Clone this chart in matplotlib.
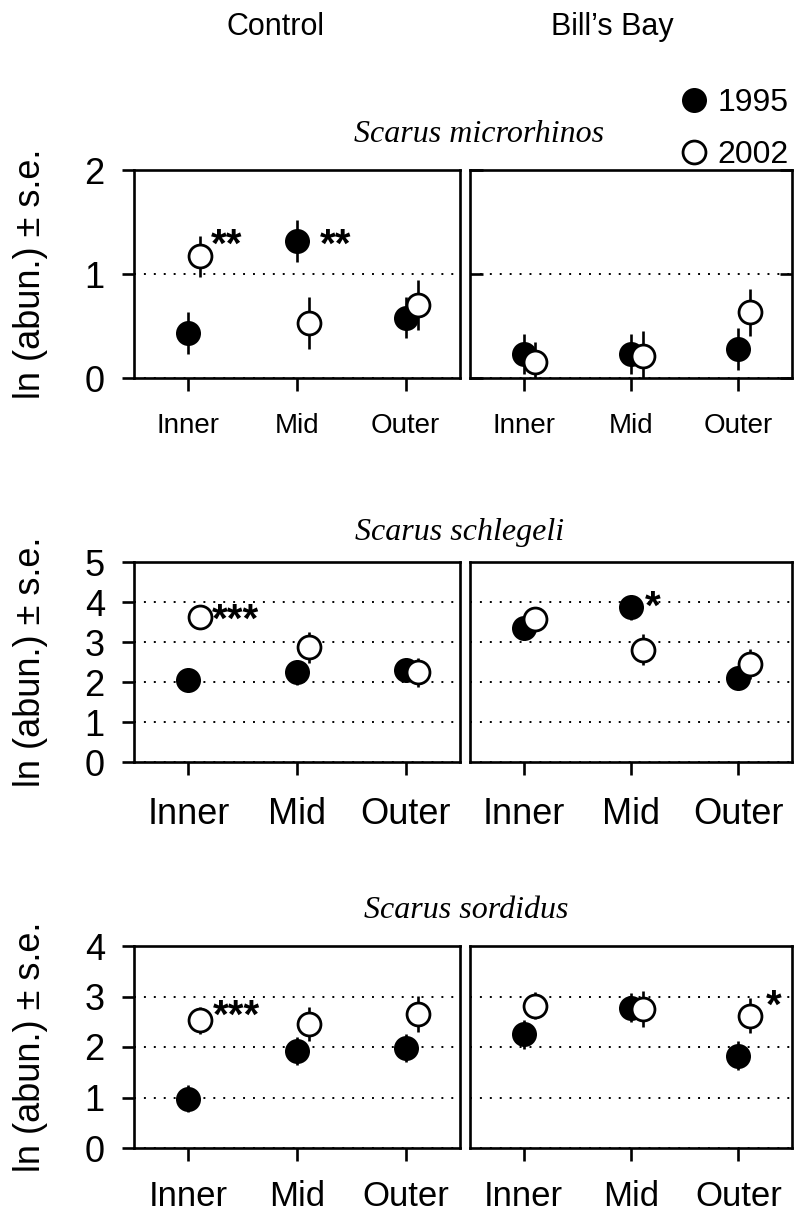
import matplotlib
matplotlib.use("Agg")
import matplotlib.pyplot as plt
import numpy as np

# ---- data -------------------------------------------------------------
sites = ["Control", "Bill\u2019s Bay"]
zones = ["Inner", "Mid", "Outer"]
species = ["Scarus microrhinos", "Scarus schlegeli", "Scarus sordidus"]
years = ["1995", "2002"]

# ln(abundance) means and standard errors, per zone (Inner, Mid, Outer)
micro_ctrl_1995 = [0.43, 1.32, 0.58]
micro_ctrl_1995_se = [0.20, 0.20, 0.20]
micro_ctrl_2002 = [1.17, 0.53, 0.70]
micro_ctrl_2002_se = [0.20, 0.25, 0.24]
micro_bill_1995 = [0.23, 0.23, 0.28]
micro_bill_1995_se = [0.19, 0.19, 0.20]
micro_bill_2002 = [0.15, 0.21, 0.63]
micro_bill_2002_se = [0.20, 0.24, 0.23]

schl_ctrl_1995 = [2.04, 2.24, 2.31]
schl_ctrl_1995_se = [0.30, 0.32, 0.30]
schl_ctrl_2002 = [3.62, 2.87, 2.24]
schl_ctrl_2002_se = [0.29, 0.39, 0.37]
schl_bill_1995 = [3.35, 3.87, 2.10]
schl_bill_1995_se = [0.30, 0.31, 0.29]
schl_bill_2002 = [3.58, 2.81, 2.45]
schl_bill_2002_se = [0.30, 0.39, 0.37]

sord_ctrl_1995 = [0.98, 1.92, 1.98]
sord_ctrl_1995_se = [0.27, 0.28, 0.28]
sord_ctrl_2002 = [2.53, 2.45, 2.65]
sord_ctrl_2002_se = [0.27, 0.34, 0.36]
sord_bill_1995 = [2.25, 2.78, 1.83]
sord_bill_1995_se = [0.29, 0.28, 0.29]
sord_bill_2002 = [2.82, 2.75, 2.62]
sord_bill_2002_se = [0.26, 0.35, 0.35]

y_max = [2, 5, 4]

# significance markers: (species row, site column, x, y, label)
signif = [
    (0, 0, 1.21, 1.35, "**"),
    (0, 0, 2.21, 1.35, "**"),
    (1, 0, 1.22, 3.73, "***"),
    (1, 1, 2.13, 4.07, "*"),
    (2, 0, 1.23, 2.76, "***"),
    (2, 1, 3.26, 2.96, "*"),
]

panels = {
    (0, 0): (micro_ctrl_1995, micro_ctrl_1995_se, micro_ctrl_2002, micro_ctrl_2002_se),
    (0, 1): (micro_bill_1995, micro_bill_1995_se, micro_bill_2002, micro_bill_2002_se),
    (1, 0): (schl_ctrl_1995, schl_ctrl_1995_se, schl_ctrl_2002, schl_ctrl_2002_se),
    (1, 1): (schl_bill_1995, schl_bill_1995_se, schl_bill_2002, schl_bill_2002_se),
    (2, 0): (sord_ctrl_1995, sord_ctrl_1995_se, sord_ctrl_2002, sord_ctrl_2002_se),
    (2, 1): (sord_bill_1995, sord_bill_1995_se, sord_bill_2002, sord_bill_2002_se),
}

# ---- layout -----------------------------------------------------------
SANS = ["Liberation Sans", "DejaVu Sans"]
SERIF = ["Liberation Serif", "DejaVu Serif"]
plt.rcParams["font.family"] = SANS

W, H = 794, 1216
fig = plt.figure(figsize=(W / 100, H / 100), dpi=100)

row_px = [(170, 378), (562, 762), (946, 1148)]
col_px = [(134, 460), (470, 792)]
title_pos = [(479, 142), (460, 540), (466, 918)]
xtick_size = [20, 26, 25]
xtick_pad = [16, 16, 14]

lw = 1.9
offset = 0.11
xpos = np.arange(1, len(zones) + 1)


def px_rect(x0, x1, y0, y1):
    return [x0 / W, 1 - y1 / H, (x1 - x0) / W, (y1 - y0) / H]


handles = None
axes = {}
for r in range(3):
    for c in range(2):
        x0, x1 = col_px[c]
        y0, y1 = row_px[r]
        ax = fig.add_axes(px_rect(x0, x1, y0, y1))
        axes[(r, c)] = ax
        m95, s95, m02, s02 = panels[(r, c)]

        eb95 = ax.errorbar(xpos, m95, yerr=s95, fmt="o", ms=16.5,
                           mfc="black", mec="black", mew=1.5,
                           ecolor="black", elinewidth=lw, capsize=0,
                           zorder=3)
        eb02 = ax.errorbar(xpos + offset, m02, yerr=s02, fmt="o", ms=16.5,
                           mfc="white", mec="black", mew=2.0,
                           ecolor="black", elinewidth=lw, capsize=0,
                           zorder=4)
        if handles is None:
            handles = [eb95[0], eb02[0]]

        ax.set_xlim(0.5, 3.5)
        ax.set_ylim(0, y_max[r])
        ax.set_yticks(range(0, y_max[r] + 1))
        ax.set_xticks(xpos)
        ax.set_xticklabels(zones)
        for sp in ax.spines.values():
            sp.set_linewidth(lw)
            sp.set_zorder(5)

        ax.yaxis.grid(True, linestyle=(0, (1, 4.1)), color="black",
                      linewidth=1.4)
        ax.set_axisbelow(True)

        ax.tick_params(axis="x", direction="out", length=9, width=lw,
                       labelsize=xtick_size[r], pad=xtick_pad[r])
        if c == 0:
            ax.tick_params(axis="y", direction="out", length=9, width=lw,
                           labelsize=26, pad=12)
            ax.set_ylabel("ln (abun.) \u00b1 s.e.", fontsize=26)
            ax.yaxis.set_label_coords((48 - x0) / (x1 - x0), 0.5)
        elif r == 0:
            ax.tick_params(axis="y", direction="in", length=9, width=lw,
                           left=True, right=True, labelleft=False)
        else:
            ax.tick_params(axis="y", length=0, labelleft=False)

# species names
for r, name in enumerate(species):
    tx, ty = title_pos[r]
    fig.text(tx / W, 1 - ty / H, name, family=SERIF, style="italic",
             fontsize=23, ha="center", va="baseline")

# site headers
fig.text(276 / W, 1 - 35 / H, sites[0], fontsize=22, ha="center",
         va="baseline")
fig.text(612 / W, 1 - 35 / H, sites[1], fontsize=22, ha="center",
         va="baseline")

# significance asterisks
star_fs = 29
for r, c, sx, sy, lab in signif:
    axes[(r, c)].annotate(lab, xy=(sx, sy), xytext=(0, -0.48 * star_fs),
                          textcoords="offset points", ha="left",
                          va="baseline", fontsize=star_fs,
                          fontweight="bold", zorder=6)

# year legend
fig.legend(handles, years, loc="upper left",
           bbox_to_anchor=(681 / W, 1 - 88 / H), frameon=False,
           fontsize=23, handlelength=0.8, handletextpad=0.35,
           labelspacing=0.68, borderpad=0, borderaxespad=0,
           markerscale=1.0)

fig.savefig("out.png", dpi=100)
